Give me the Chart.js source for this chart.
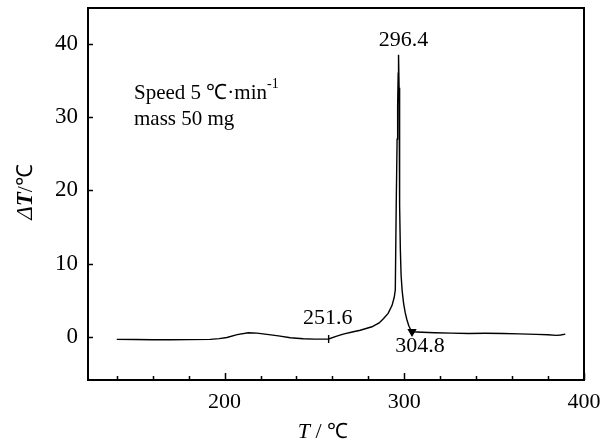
<!DOCTYPE html>
<html>
<head>
<meta charset="utf-8">
<script src="https://cdn.jsdelivr.net/npm/chart.js@4/dist/chart.umd.min.js"></script>
<style>
  html, body { margin: 0; padding: 0; background: #fff; }
  #wrap { width: 612px; height: 441px; }
</style>
</head>
<body>
<div id="wrap"><canvas id="dta"></canvas></div>
<script>
// DTA curve
const temperature = [140, 150, 160, 170, 180, 192, 197, 201.3, 207, 213.2, 218, 223.6, 230, 236.6, 243.8, 250,
    257.9, 262, 266, 271, 275.5, 282, 286, 288.5, 291, 293.2, 294.4, 295.0, 295.5, 296.0, 296.3, 296.6, 296.8,
    297.1, 297.3, 297.5, 297.8, 298.2, 298.8, 299.6, 300.5, 301.5, 302.5, 303.5, 304.3, 307, 310, 317, 326,
    336, 345, 355, 364, 373.5, 380, 384.6, 387, 389.6];
const deltaT = [-0.35, -0.37, -0.4, -0.4, -0.38, -0.35, -0.25, -0.1, 0.3, 0.55, 0.5, 0.33, 0.12, -0.13, -0.27, -0.32,
    -0.3, 0.05, 0.37, 0.65, 0.9, 1.37, 1.9, 2.5, 3.2, 4.3, 5.4, 6.4, 17.8, 27, 31.5, 36, 38.5,
    34, 31, 18, 12, 8.5, 6.3, 4.6, 3.3, 2.3, 1.5, 1.0, 0.7, 0.66, 0.62, 0.55, 0.5,
    0.46, 0.48, 0.46, 0.4, 0.33, 0.28, 0.19, 0.25, 0.37];

const markerTemps = [257.9, 304.3];
const peakLabels = ['251.6', '296.4', '304.8'];
const peakLabelX = [257.9, 296.8, 304.3];
const peakLabelY = [-0.3, 38.5, 0.7];

const xTicks = [140, 160, 180, 200, 220, 240, 260, 280, 300, 320, 340, 360, 380, 400];
const yTicks = [0, 10, 20, 30, 40];

const SERIF = '"Liberation Serif", "Times New Roman", serif';

const points = temperature.map((t, i) => ({ x: t, y: deltaT[i] }));
const markerIdx = markerTemps.map(m => temperature.indexOf(m));

// no extra room for half tick labels, the frame is fixed
const noPad = (s) => { s.paddingTop = 0; s.paddingBottom = 0; s.paddingLeft = 0; s.paddingRight = 0; };

// frame, inward ticks and the text inside the plot
const decorations = {
    id: 'decorations',
    afterDraw(chart) {
        const { ctx, chartArea: a, scales: { x, y } } = chart;
        ctx.save();
        ctx.strokeStyle = '#000';
        ctx.lineWidth = 2;
        ctx.strokeRect(a.left, a.top, a.right - a.left, a.bottom - a.top);

        ctx.lineWidth = 1.5;
        ctx.beginPath();
        x.ticks.forEach(t => {
            const px = Math.round(x.getPixelForValue(t.value)) + 0.5;
            const len = t.value % 100 === 0 ? 7 : 4;
            ctx.moveTo(px, a.bottom);
            ctx.lineTo(px, a.bottom - len);
        });
        y.ticks.forEach(t => {
            const py = Math.round(y.getPixelForValue(t.value)) + 0.5;
            ctx.moveTo(a.left, py);
            ctx.lineTo(a.left + 5, py);
        });
        ctx.stroke();

        // peak temperatures
        const offs = [[-1, -21], [5, -15], [8, 15]];
        ctx.fillStyle = '#000';
        ctx.font = '22px ' + SERIF;
        ctx.textAlign = 'center';
        ctx.textBaseline = 'middle';
        peakLabels.forEach((s, i) => {
            ctx.fillText(s, x.getPixelForValue(peakLabelX[i]) + offs[i][0],
                y.getPixelForValue(peakLabelY[i]) + offs[i][1]);
        });

        // run conditions
        ctx.textAlign = 'left';
        ctx.textBaseline = 'alphabetic';
        const lx = a.left + 46;
        ctx.font = '21px ' + SERIF;
        let s = 'Speed 5 \u2103\u00b7min';
        ctx.fillText(s, lx, 99);
        const w = ctx.measureText(s).width;
        ctx.font = '14px ' + SERIF;
        ctx.fillText('-1', lx + w, 88);
        ctx.font = '21px ' + SERIF;
        ctx.fillText('mass 50 mg', lx, 125);

        // axis titles
        ctx.textBaseline = 'middle';
        const part = (txt, font) => { ctx.font = font; return ctx.measureText(txt).width; };
        // x title: T / ℃
        const xt = [['T', 'italic 22px ' + SERIF], [' / ', '22px ' + SERIF], ['\u2103', '21px ' + SERIF]];
        let tw = xt.reduce((acc, p) => acc + part(p[0], p[1]), 0);
        let cx = 323 - tw / 2;
        xt.forEach(p => { ctx.font = p[1]; ctx.fillText(p[0], cx, 432); cx += ctx.measureText(p[0]).width; });

        // y title: ΔT/℃ rotated
        const yt = [['\u0394', 'italic 23px ' + SERIF], ['T', 'italic bold 23px ' + SERIF], ['/\u2103', '22px ' + SERIF]];
        tw = yt.reduce((acc, p) => acc + part(p[0], p[1]), 0);
        ctx.translate(26, 192);
        ctx.rotate(-Math.PI / 2);
        cx = -tw / 2;
        yt.forEach(p => { ctx.font = p[1]; ctx.fillText(p[0], cx, 0); cx += ctx.measureText(p[0]).width; });
        ctx.restore();
    }
};

new Chart(document.getElementById('dta'), {
    type: 'scatter',
    data: {
        datasets: [{
            data: points,
            showLine: true,
            borderColor: '#000',
            borderWidth: 1.4,
            tension: 0,
            pointRadius: points.map((_, i) => markerIdx.includes(i) ? 4 : 0),
            pointStyle: points.map((_, i) => i === markerIdx[1] ? 'triangle' : 'line'),
            pointRotation: points.map((_, i) => i === markerIdx[1] ? 180 : 90),
            pointBackgroundColor: '#000',
            pointBorderColor: '#000',
            pointBorderWidth: 1.4,
        }]
    },
    options: {
        responsive: true,
        maintainAspectRatio: false,
        animation: false,
        layout: { padding: { left: 0, right: 28, top: 8, bottom: 0 } },
        plugins: {
            legend: { display: false },
            tooltip: { enabled: false },
        },
        scales: {
            x: {
                type: 'linear',
                min: 124,
                max: 400,
                afterFit: (s) => { s.height = 61; noPad(s); },
                afterBuildTicks: (s) => { s.ticks = xTicks.map(v => ({ value: v })); },
                grid: { display: false, drawTicks: false },
                border: { display: false },
                ticks: {
                    autoSkip: false,
                    maxRotation: 0,
                    padding: 9,
                    color: '#000',
                    font: { family: SERIF, size: 22 },
                    callback: (v) => v % 100 === 0 ? String(v) : '',
                }
            },
            y: {
                min: -5.9,
                max: 44.9,
                afterFit: (s) => { s.width = 88; noPad(s); },
                afterBuildTicks: (s) => { s.ticks = yTicks.map(v => ({ value: v })); },
                grid: { display: false, drawTicks: false },
                border: { display: false },
                ticks: {
                    padding: 10,
                    color: '#000',
                    font: { family: SERIF, size: 23 },
                }
            }
        }
    },
    plugins: [decorations]
});
</script>
</body>
</html>
